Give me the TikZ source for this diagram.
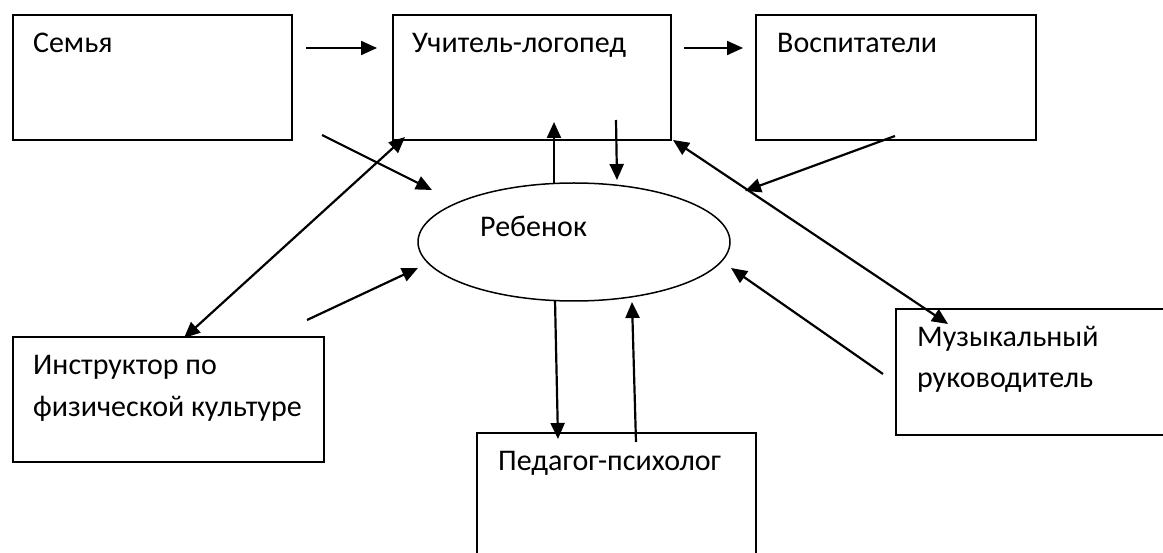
\documentclass[tikz,border=0pt]{standalone}
\usepackage{fontspec}
\setmainfont{Carlito}
\usetikzlibrary{arrows.meta,shapes.geometric}
\begin{document}
\begin{tikzpicture}[x=1pt,y=-1pt,
  box/.style={draw,line width=1.8pt,inner sep=0pt,anchor=north west},
  lbl/.style={anchor=base west,inner sep=0pt,font=\fontsize{30}{42}\selectfont},
  tipA/.tip={Triangle[length=16pt,width=14pt]},
  arr/.style={line width=2.2pt,-tipA},
  darr/.style={line width=2.2pt,tipA-tipA}]
\useasboundingbox (0,0) rectangle (1163,553);
\clip (0,0) rectangle (1163,553);
% boxes
\node[box,minimum width=279pt,minimum height=125pt] (semya) at (12,14) {};
\node[box,minimum width=278pt,minimum height=125pt] (uch) at (392,14) {};
\node[box,minimum width=280pt,minimum height=125pt] (vosp) at (755,14) {};
\node[box,minimum width=311pt,minimum height=125pt] (instr) at (12,336) {};
\node[box,minimum width=279pt,minimum height=170pt] (ped) at (476,432) {};
\node[box,minimum width=320pt,minimum height=126pt] (muz) at (895,308) {};
\node[draw,ellipse,line width=1.5pt,minimum width=312pt,minimum height=118pt,inner sep=0pt] (child) at (574,242) {};
% labels
\node[lbl] (tsemya) at (33,53) {Семья};
\node[lbl] (tuch) at (412,53) {Учитель-логопед};
\node[lbl] (tvosp) at (777,53) {Воспитатели};
\node[lbl] (tchild) at (480,237) {Ребенок};
\node[lbl] (tinstrA) at (33,375) {Инструктор по};
\node[lbl] (tinstrB) at (33,417) {физической культуре};
\node[lbl] (tmuzA) at (917,347) {Музыкальный};
\node[lbl] (tmuzB) at (917,388) {руководитель};
\node[lbl] (tped) at (498,471) {Педагог-психолог};
% connector ends
\coordinate (s1) at (306,48);  \coordinate (e1) at (377,48);
\coordinate (s2) at (684,48);  \coordinate (e2) at (743,48);
\coordinate (s3) at (895,136); \coordinate (e3) at (745,191);
\coordinate (s4) at (673,140); \coordinate (e4) at (948,324);
\coordinate (s5) at (554,183); \coordinate (e5) at (554,122);
\coordinate (s6) at (616,120); \coordinate (e6) at (617,180);
\coordinate (s7) at (322,135); \coordinate (e7) at (432,190);
\coordinate (s8) at (184,338); \coordinate (e8) at (405,137);
\coordinate (s9) at (307,320); \coordinate (e9) at (418,268);
\coordinate (s10) at (555,300); \coordinate (e10) at (558,439);
\coordinate (s11) at (636,442); \coordinate (e11) at (632,302);
\coordinate (s12) at (883,374); \coordinate (e12) at (731,268);
% connectors
\draw[arr] (s1) -- (e1);
\draw[arr] (s2) -- (e2);
\draw[arr] (s3) -- (e3);
\draw[darr] (s4) -- (e4);
\draw[arr] (s5) -- (e5);
\draw[arr] (s6) -- (e6);
\draw[arr] (s7) -- (e7);
\draw[darr] (s8) -- (e8);
\draw[arr] (s9) -- (e9);
\draw[arr] (s10) -- (e10);
\draw[arr] (s11) -- (e11);
\draw[arr] (s12) -- (e12);
\end{tikzpicture}
\end{document}
